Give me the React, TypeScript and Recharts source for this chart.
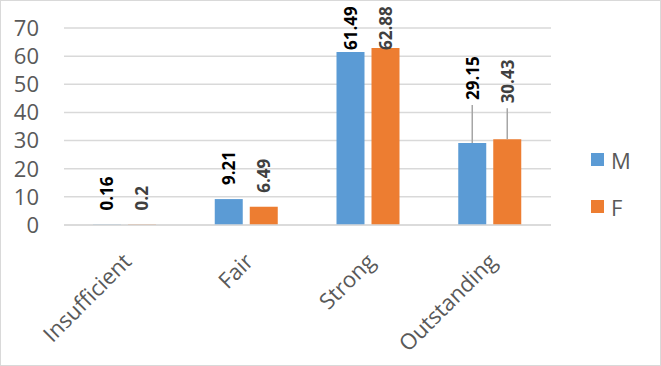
import React from "react";
import { BarChart, Bar, XAxis, YAxis, CartesianGrid, Legend, LabelList } from "recharts";

const categories = ["Insufficient", "Fair", "Strong", "Outstanding"];
const maleValues = [0.16, 9.21, 61.49, 29.15];
const femaleValues = [0.2, 6.49, 62.88, 30.43];
const yTicks = [0, 10, 20, 30, 40, 50, 60, 70];

const data = categories.map((c, i) => ({ name: c, M: maleValues[i], F: femaleValues[i] }));

const FONT = "'Open Sans', 'DejaVu Sans', sans-serif";
const BLUE = "#5b9bd5";
const ORANGE = "#ed7d31";
const GRID = "#d9d9d9";
const TEXT = "#595959";

// label layout tweaks (Excel dragged labels with leader lines)
const LABEL_GAP = 14;
const LABEL_MIN_BOTTOM = 50;
const LEADER_LIFT: Record<string, [number, number]> = { Outstanding: [43, 36] };

const makeLabel = (seriesIdx: number) => (props: any) => {
  const { x, y, width, value, index } = props;
  const cx = Number(x) + Number(width) / 2;
  const barTop = Number(y);
  const cat = categories[index];
  const lift = LEADER_LIFT[cat];
  let bottom: number;
  let leader: React.ReactNode = null;
  if (lift) {
    bottom = barTop - lift[seriesIdx];
    leader = (
      <line x1={cx} x2={cx} y1={barTop} y2={bottom + 5} stroke="#a6a6a6" strokeWidth={1.5} />
    );
  } else {
    bottom = Math.max(barTop - LABEL_GAP, LABEL_MIN_BOTTOM);
  }
  return (
    <g>
      {leader}
      <text
        x={cx}
        y={bottom}
        transform={`rotate(-90, ${cx}, ${bottom})`}
        textAnchor="start"
        dominantBaseline="central"
        fontFamily={FONT}
        fontSize={17}
        fontWeight={700}
        fill={seriesIdx === 0 ? "#000000" : "#404040"}
      >
        {value}
      </text>
    </g>
  );
};

const CatTick = (props: any) => {
  const { x, y, payload } = props;
  const ax = Number(x) + 8;
  const ay = Number(y) + 30;
  return (
    <text
      x={ax}
      y={ay}
      transform={`rotate(-45, ${ax}, ${ay})`}
      textAnchor="end"
      fontFamily={FONT}
      fontSize={22}
      fill={TEXT}
    >
      {payload.value}
    </text>
  );
};

const LegendContent = () => (
  <div style={{ width: 84, paddingLeft: 40, boxSizing: "border-box", fontFamily: FONT }}>
    {[
      { label: "M", color: BLUE },
      { label: "F", color: ORANGE },
    ].map((it, i) => (
      <div
        key={it.label}
        style={{ display: "flex", alignItems: "center", height: 30, marginTop: i === 0 ? 0 : 17 }}
      >
        <div style={{ width: 13, height: 13, background: it.color, marginRight: 7 }} />
        <span style={{ fontSize: 22, color: TEXT, lineHeight: "30px" }}>{it.label}</span>
      </div>
    ))}
  </div>
);

export default function App() {
  return (
    <div style={{ position: "relative", width: 661, height: 366, background: "#fff" }}>
      <style>{`body{margin:0}`}</style>
      <BarChart
        width={661}
        height={366}
        data={data}
        margin={{ top: 28, right: 26, left: 0, bottom: 0 }}
        barSize={28}
        barGap={7}
      >
        <CartesianGrid vertical={false} stroke={GRID} strokeWidth={1.5} />
        <XAxis
          dataKey="name"
          height={141}
          axisLine={{ stroke: GRID, strokeWidth: 1.5 }}
          tickLine={false}
          interval={0}
          tick={<CatTick />}
        />
        <YAxis
          width={64}
          domain={[0, 70]}
          ticks={yTicks}
          interval={0}
          axisLine={false}
          tickLine={false}
          tickSize={0}
          tickMargin={25}
          tick={{ fontFamily: FONT, fontSize: 22, fill: TEXT }}
        />
        <Legend
          layout="vertical"
          align="right"
          verticalAlign="middle"
          content={<LegendContent />}
        />
        <Bar dataKey="M" fill={BLUE} isAnimationActive={false}>
          <LabelList dataKey="M" content={makeLabel(0)} />
        </Bar>
        <Bar dataKey="F" fill={ORANGE} isAnimationActive={false}>
          <LabelList dataKey="F" content={makeLabel(1)} />
        </Bar>
      </BarChart>
      <div
        style={{
          position: "absolute",
          left: 0,
          top: 0,
          width: 661,
          height: 366,
          boxSizing: "border-box",
          border: `1.5px solid ${GRID}`,
          pointerEvents: "none",
        }}
      />
    </div>
  );
}
